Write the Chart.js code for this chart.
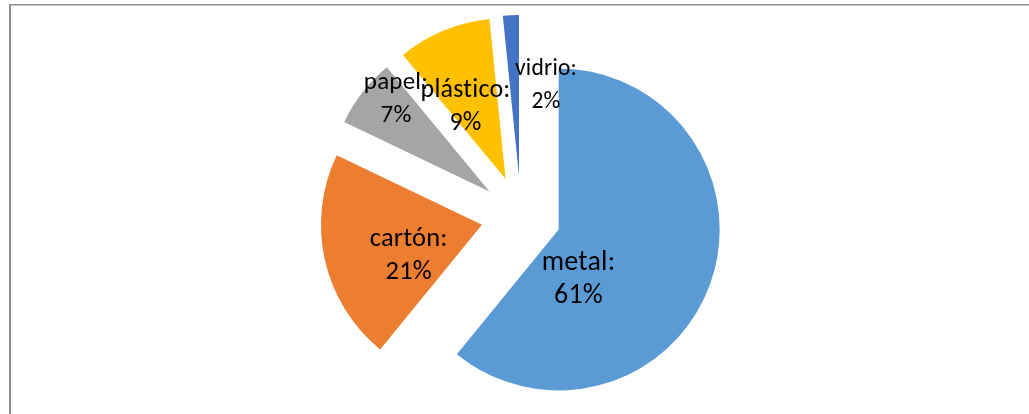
<!DOCTYPE html>
<html>
<head>
<meta charset="utf-8">
<script src="https://cdn.jsdelivr.net/npm/chart.js@4/dist/chart.umd.min.js"></script>
<style>
  html, body { margin: 0; padding: 0; background: #ffffff; }
  #wrap { position: relative; width: 1029px; height: 414px; }
</style>
</head>
<body>
<div id="wrap"><canvas id="c" width="1029" height="414"></canvas></div>
<script>
// ---- data ----
const categories = ["metal", "cartón", "papel", "plástico", "vidrio"];
const values = [60.9, 21.2, 6.9, 9.4, 1.6];
const colors = ["#5B9BD5", "#ED7D31", "#A5A5A5", "#FFC000", "#4472C4"];

// ---- styling ----
const explode = [40, 40, 40, 40, 40];
const labelSizes = [28, 26.5, 25, 26, 23.5];
const labelShift = [[-56, 29.6], [5.3, 20.7], [-30, -36.3], [-9, 8.9], [31.1, -3.7]];
const lineGap = 33;
const FONT = "Carlito, Calibri, Lato, 'Open Sans', sans-serif";

const total = values.reduce((a, b) => a + b, 0);

const frame = {
  id: 'frame',
  beforeDraw(chart) {
    const ctx = chart.ctx;
    ctx.save();
    ctx.fillStyle = '#ffffff';
    ctx.fillRect(0, 0, chart.width, chart.height);
    ctx.fillStyle = '#8e8e8e';
    ctx.fillRect(9, 4, 2, chart.height - 4);
    ctx.fillRect(9, 4, chart.width - 9, 1.5);
    ctx.restore();
  }
};

const exploded = {
  id: 'exploded',
  beforeDatasetsDraw(chart) {
    const ctx = chart.ctx;
    const meta = chart.getDatasetMeta(0);
    meta.data.forEach((arc, i) => {
      const mid = (arc.startAngle + arc.endAngle) / 2;
      ctx.save();
      ctx.translate(Math.cos(mid) * explode[i], Math.sin(mid) * explode[i]);
      arc.draw(ctx);
      ctx.restore();
    });
    // labels
    meta.data.forEach((arc, i) => {
      const mid = (arc.startAngle + arc.endAngle) / 2;
      const c = arc.getCenterPoint();
      const x = c.x + Math.cos(mid) * explode[i] + labelShift[i][0];
      const y = c.y + Math.sin(mid) * explode[i] + labelShift[i][1];
      const pct = Math.round(values[i] / total * 100) + '%';
      ctx.save();
      ctx.fillStyle = '#000000';
      ctx.textAlign = 'center';
      ctx.textBaseline = 'alphabetic';
      ctx.font = labelSizes[i] + 'px ' + FONT;
      if ('letterSpacing' in ctx) ctx.letterSpacing = '0.2px';
      ctx.fillText(categories[i] + ':', x, y - lineGap / 2);
      ctx.fillText(pct, x, y + lineGap / 2);
      ctx.restore();
    });
    return false;
  }
};

new Chart(document.getElementById('c'), {
  type: 'pie',
  data: {
    labels: categories,
    datasets: [{
      data: values,
      backgroundColor: colors,
      borderWidth: 0
    }]
  },
  options: {
    responsive: false,
    animation: false,
    radius: 161,
    rotation: 0,
    layout: { padding: { left: 13, top: 18, right: 0, bottom: 0 } },
    plugins: {
      legend: { display: false },
      tooltip: { enabled: false }
    }
  },
  plugins: [frame, exploded]
});
</script>
</body>
</html>
